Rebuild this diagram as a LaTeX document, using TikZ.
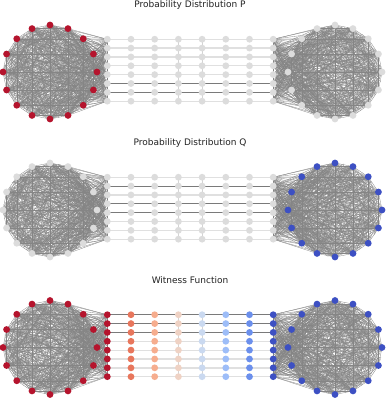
\documentclass[tikz,border=0pt]{standalone}
\usepackage{fontspec}
\setmainfont{DejaVu Sans}
\definecolor{cwred}{HTML}{B5142D}
\definecolor{cwblue}{HTML}{3D50C3}
\definecolor{ngray}{HTML}{DCDCDC}
\definecolor{cliquegray}{HTML}{858585}
\definecolor{meshgray}{HTML}{8E8E8E}
\definecolor{rowlight}{HTML}{E0E0E0}
\definecolor{rowdark}{HTML}{7A7A7A}
\definecolor{vlinkcol}{HTML}{D4D4D4}
\definecolor{cwA}{HTML}{E8765C}
\definecolor{cwB}{HTML}{F6AD8E}
\definecolor{cwC}{HTML}{EFD2C4}
\definecolor{cwD}{HTML}{CAD9F0}
\definecolor{cwE}{HTML}{9DBDF8}
\definecolor{cwF}{HTML}{6B8FEC}
\definecolor{titlecol}{HTML}{222222}
\tikzset{
  cedge/.style={draw=cliquegray, line width=0.3pt},
  medge/.style={draw=meshgray, line width=0.22pt},
  vnode/.style={circle, inner sep=0pt, minimum size=6.8pt, draw=none},
  lightrow/.style={draw=rowlight, line width=1.2pt},
  thickrow/.style={draw=rowlight, line width=2pt},
  darkrow/.style={draw=rowdark, line width=0.9pt},
  vlink/.style={draw=vlinkcol, line width=0.5pt},
  titletext/.style={font=\fontsize{9}{10}\selectfont, text=titlecol}
}
% random chords filling a clique: #1 centre x, #2 centre y, #3 column x
\newcommand{\mymesh}[3]{%
  \foreach \r in {1,...,260} {
    \pgfmathsetmacro\ta{360*rnd}
    \pgfmathsetmacro\tb{360*rnd}
    \pgfmathsetmacro\ra{47*sqrt(0.55+0.45*rnd)}
    \pgfmathsetmacro\rb{47*sqrt(0.55+0.45*rnd)}
    \draw[medge] ({#1+\ra*cos(\ta)}, {#2-\ra*sin(\ta)}) -- ({#1+\rb*cos(\tb)}, {#2-\rb*sin(\tb)});
  }
  \foreach \r in {1,...,60} {
    \pgfmathsetmacro\ta{360*rnd}
    \pgfmathsetmacro\ra{47*sqrt(0.4+0.6*rnd)}
    \pgfmathsetmacro\yb{#2-1.8+(7*rnd-3.5)*8.85}
    \draw[medge] ({#1+\ra*cos(\ta)}, {#2-\ra*sin(\ta)}) -- (#3, \yb);
  }
}
% #1 id, #2 cy, #3 left colour, #4 right colour, #5 title, #6 row styles, #7 column colours
\newcommand{\mypanel}[7]{%
  \foreach \k in {0,...,15} {
    \coordinate (a#1-\k) at ({50+47*cos(90-22.5*\k)}, {#2-47*sin(90-22.5*\k)});
    \coordinate (b#1-\k) at ({335+47*cos(90-22.5*\k)}, {#2-47*sin(90-22.5*\k)});
  }
  \foreach \i in {0,...,7} {
    \foreach \j in {0,...,7} {
      \coordinate (c#1-\i-\j) at ({107.3+23.7*\j}, {#2-1.8+(\i-3.5)*8.85});
    }
    \pgfmathtruncatemacro\kk{16+\i}
    \coordinate (a#1-\kk) at (c#1-\i-0);
    \coordinate (b#1-\kk) at (c#1-\i-7);
  }
  \mymesh{50}{#2}{107.3}
  \mymesh{335}{#2}{273.2}
  \foreach \m in {0,...,22} {
    \pgfmathtruncatemacro\s{\m+1}
    \foreach \n in {\s,...,23} {
      \draw[cedge] (a#1-\m) -- (a#1-\n);
      \draw[cedge] (b#1-\m) -- (b#1-\n);
    }
  }
  \foreach \i in {0,...,6} {
    \pgfmathtruncatemacro\ii{\i+1}
    \draw[vlink] (c#1-\i-3) -- (c#1-\ii-3);
    \draw[vlink] (c#1-\i-4) -- (c#1-\ii-4);
  }
  \foreach \i/\st in {#6} {
    \foreach \j in {0,...,6} {
      \pgfmathtruncatemacro\jj{\j+1}
      \draw[\st] (c#1-\i-\j) -- (c#1-\i-\jj);
    }
  }
  \foreach \k in {0,...,15} {
    \node[vnode, fill=#3] (A#1-\k) at (a#1-\k) {};
    \node[vnode, fill=#4] (B#1-\k) at (b#1-\k) {};
  }
  \foreach \j/\col in {#7} {
    \foreach \i in {0,...,7} {
      \node[vnode, fill=\col] (N#1-\i-\j) at (c#1-\i-\j) {};
    }
  }
  \node[titletext] (T#1) at (190, #2-67) {#5};
}
\begin{document}
\begin{tikzpicture}[x=1pt,y=-1pt]
\pgfmathsetseed{7}
\useasboundingbox[fill=white] (0,0) rectangle (386,400);
\mypanel{1}{72}{cwred}{ngray}{Probability Distribution P}%
  {0/lightrow,1/lightrow,2/lightrow,3/lightrow,4/lightrow,5/darkrow,6/darkrow,7/lightrow}%
  {0/ngray,1/ngray,2/ngray,3/ngray,4/ngray,5/ngray,6/ngray,7/ngray}
\mypanel{2}{210}{ngray}{cwblue}{Probability Distribution Q}%
  {0/lightrow,1/darkrow,2/lightrow,3/darkrow,4/darkrow,5/lightrow,6/lightrow,7/lightrow}%
  {0/ngray,1/ngray,2/ngray,3/ngray,4/ngray,5/ngray,6/ngray,7/ngray}
\mypanel{3}{347.5}{cwred}{cwblue}{Witness Function}%
  {0/darkrow,1/darkrow,2/darkrow,3/lightrow,4/lightrow,5/lightrow,6/thickrow,7/lightrow}%
  {0/cwred,1/cwA,2/cwB,3/cwC,4/cwD,5/cwE,6/cwF,7/cwblue}
\end{tikzpicture}
\end{document}
